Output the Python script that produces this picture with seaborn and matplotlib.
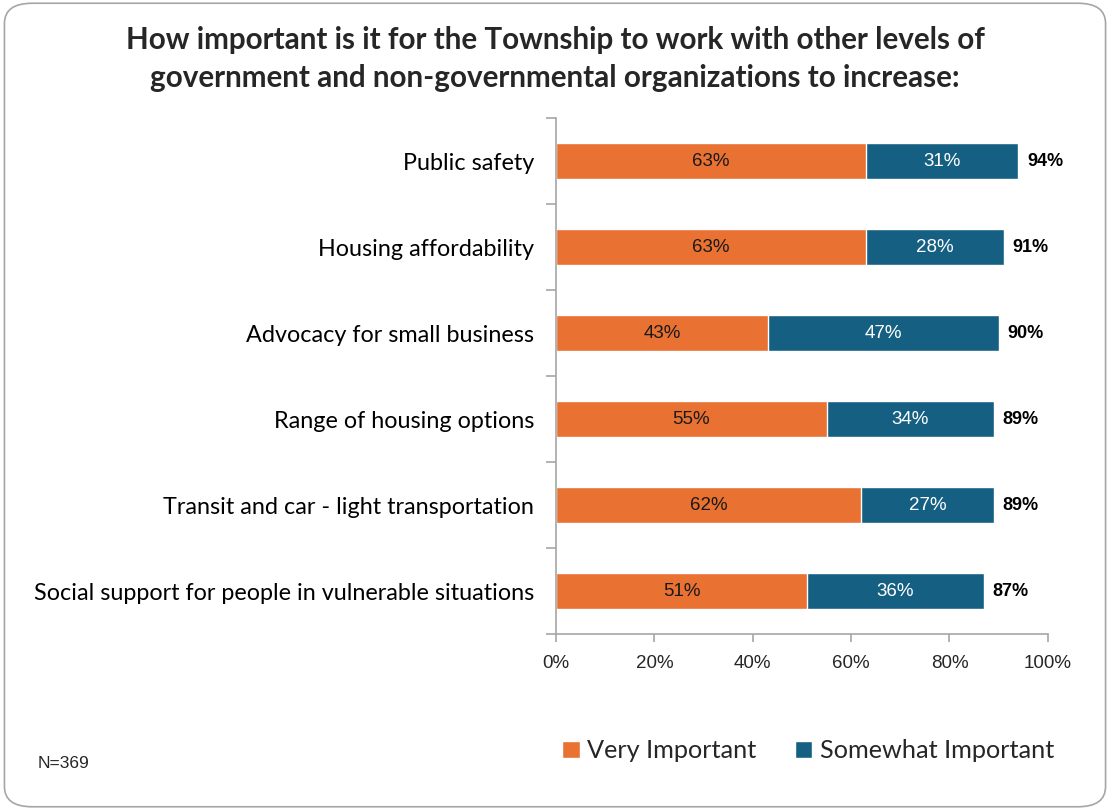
import matplotlib
matplotlib.use("Agg")
import matplotlib.pyplot as plt
from matplotlib.patches import FancyBboxPatch, Patch
import pandas as pd
import seaborn as sns

# Chart data
categories = [
    "Public safety",
    "Housing affordability",
    "Advocacy for small business",
    "Range of housing options",
    "Transit and car - light transportation",
    "Social support for people in vulnerable situations",
]
very_important = [63, 63, 43, 55, 62, 51]
somewhat_important = [31, 28, 47, 34, 27, 36]
totals = [94, 91, 90, 89, 89, 87]
x_ticks = [0, 20, 40, 60, 80, 100]

ORANGE = "#E97132"
BLUE = "#156082"

sns.set_style("white")
plt.rcParams["font.family"] = ["Liberation Sans", "DejaVu Sans"]

df = pd.DataFrame({
    "category": categories,
    "very": very_important,
    "somewhat": somewhat_important,
    "total": totals,
})

fig = plt.figure(figsize=(11.1, 8.1), dpi=100)
ax = fig.add_axes([0.501, 0.217, 0.443, 0.637])

# stacked bars: total (blue) underneath, very important (orange) on top
sns.barplot(data=df, x="total", y="category", color=BLUE, width=0.42,
            orient="h", ax=ax, saturation=1)
sns.barplot(data=df, x="very", y="category", color=ORANGE, width=0.42,
            orient="h", ax=ax, saturation=1)

for i, row in df.iterrows():
    ax.text(row["very"] / 2, i, f"{row['very']}%", ha="center", va="center",
            fontsize=13.5, color="#1a1a1a")
    ax.text(row["very"] + row["somewhat"] / 2, i, f"{row['somewhat']}%",
            ha="center", va="center", fontsize=13.5, color="white")
    ax.text(row["total"] + 1.8, i, f"{row['total']}%", ha="left", va="center",
            fontsize=13, fontweight="bold", color="black")

ax.set_xlim(0, 100)
ax.set_ylim(5.5, -0.5)
ax.set_xticks(x_ticks)
ax.set_xticklabels([f"{t}%" for t in x_ticks], fontsize=13.5, color="#262626")
ax.set_yticks(range(len(categories)))
ax.set_yticklabels(categories, fontsize=16.8, color="black",
                   family=["Lato", "DejaVu Sans"])
ax.set_yticks([i - 0.5 for i in range(len(categories) + 1)], minor=True)
ax.tick_params(axis="y", which="major", length=0, pad=16)
ax.tick_params(axis="y", which="minor", length=7, width=1.2, color="#A6A6A6",
               direction="out", left=True)
ax.tick_params(axis="x", length=6, width=1.2, color="#A6A6A6", direction="out",
               bottom=True, pad=9)
ax.set_xlabel("")
ax.set_ylabel("")
for side in ["top", "right"]:
    ax.spines[side].set_visible(False)
for side in ["left", "bottom"]:
    ax.spines[side].set_color("#A6A6A6")
    ax.spines[side].set_linewidth(1.2)

fig.text(0.5, 0.927, "How important is it for the Township to work with other levels of\n"
         "government and non-governmental organizations to increase:",
         ha="center", va="center", fontsize=21.3, fontweight="bold",
         family=["Lato", "DejaVu Sans"], linespacing=1.45)

handles = [Patch(facecolor=ORANGE, label="Very Important"),
           Patch(facecolor=BLUE, label="Somewhat Important")]
fig.legend(handles=handles, loc="center", bbox_to_anchor=(0.728, 0.073), ncol=2,
           frameon=False, prop={"family": "Lato", "size": 18.2},
           handlelength=0.7, handleheight=0.7, handletextpad=0.3, columnspacing=1.5)

fig.text(0.034, 0.058, "N=369", fontsize=12.5, ha="left", va="center")

border = FancyBboxPatch((0.004, 0.004), 0.992, 0.992,
                        boxstyle="round,pad=0,rounding_size=0.025",
                        transform=fig.transFigure, facecolor="none",
                        edgecolor="#A6A6A6", linewidth=1.2)
fig.patches.append(border)

fig.savefig("out.png", dpi=100)
